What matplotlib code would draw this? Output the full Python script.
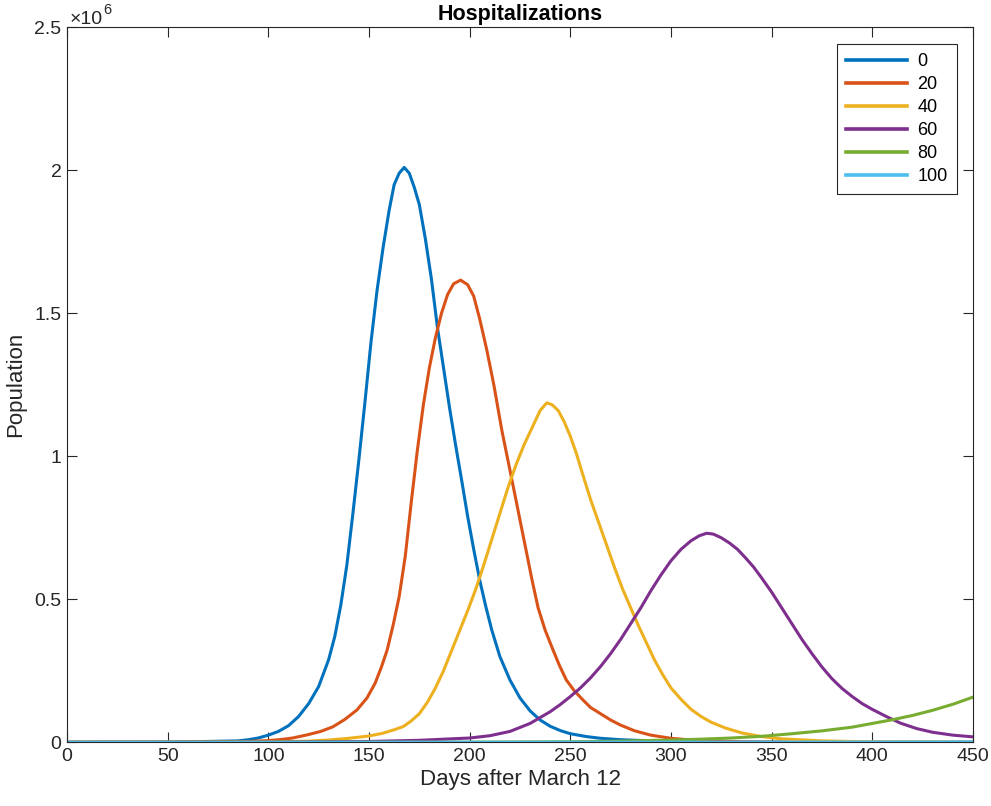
import matplotlib
matplotlib.use("Agg")
from matplotlib import pyplot as plt
from matplotlib.ticker import FuncFormatter

plt.rcParams["font.family"] = ["Liberation Sans", "DejaVu Sans"]

# values, population in millions
days_0 = [0, 50, 85, 90, 95, 100, 105, 110, 115, 120, 125, 130, 133, 136, 139, 142, 145, 148, 151,
          154, 157, 160, 162.5, 165, 167.5, 170, 172.5, 175, 178, 181, 184, 187, 190, 193, 196, 199,
          202, 205, 208, 211, 215, 220, 225, 230, 235, 240, 245, 250, 258, 265, 275, 290, 310, 350,
          400, 450]
hosp_0 = [0, 0.0003, 0.005, 0.009, 0.015, 0.025, 0.038, 0.058, 0.090, 0.135, 0.195, 0.29, 0.37, 0.48,
          0.62, 0.80, 0.99, 1.19, 1.40, 1.58, 1.73, 1.86, 1.95, 1.99, 2.01, 1.99, 1.94, 1.88, 1.76,
          1.62, 1.45, 1.31, 1.17, 1.04, 0.917, 0.79, 0.675, 0.567, 0.475, 0.392, 0.30, 0.218, 0.155,
          0.11, 0.078, 0.056, 0.041, 0.030, 0.02, 0.014, 0.009, 0.005, 0.002, 0.0004, 0.0001, 0]

days_20 = [0, 50, 90, 100, 106, 112, 119, 126, 132, 138, 144, 149, 153, 156, 159, 162, 165, 168, 171,
           174, 177, 180, 183, 186, 189, 192, 195.5, 199, 202, 205, 208.5, 212, 216, 221, 226, 231,
           234, 237.5, 241, 244.5, 248, 252, 256, 260, 265, 270, 275, 282, 290, 300, 310, 320, 340,
           370, 450]
hosp_20 = [0, 0.0004, 0.003, 0.006, 0.0095, 0.015, 0.0255, 0.038, 0.054, 0.08, 0.113, 0.155, 0.206,
           0.26, 0.322, 0.41, 0.51, 0.65, 0.84, 1.02, 1.18, 1.31, 1.415, 1.50, 1.565, 1.603, 1.616,
           1.60, 1.56, 1.48, 1.372, 1.25, 1.09, 0.917, 0.742, 0.567, 0.47, 0.392, 0.33, 0.27, 0.218,
           0.18, 0.15, 0.122, 0.10, 0.078, 0.06, 0.04, 0.025, 0.014, 0.008, 0.004, 0.0015, 0.0005, 0]

days_40 = [0, 50, 100, 120, 130, 140, 150, 157, 163, 167, 171, 175, 179, 183, 187, 191, 195, 199, 203,
           207, 211, 215, 219, 223, 227, 231, 235, 238.3, 241, 244, 247, 250, 253, 256, 260, 264, 268,
           272, 276, 280, 284, 288, 292, 296, 300, 305, 310, 315, 320, 327, 335, 345, 355, 375, 400,
           450]
hosp_40 = [0, 0.0002, 0.001, 0.004, 0.008, 0.014, 0.022, 0.032, 0.045, 0.055, 0.075, 0.10, 0.14, 0.19,
           0.25, 0.32, 0.39, 0.46, 0.535, 0.62, 0.71, 0.80, 0.89, 0.97, 1.04, 1.10, 1.16, 1.187, 1.18,
           1.16, 1.12, 1.07, 1.01, 0.94, 0.85, 0.77, 0.69, 0.61, 0.535, 0.47, 0.405, 0.345, 0.285,
           0.235, 0.19, 0.15, 0.115, 0.09, 0.07, 0.05, 0.033, 0.02, 0.012, 0.005, 0.0015, 0]

days_60 = [0, 100, 150, 175, 200, 210, 220, 230, 240, 245, 250, 255, 260, 265, 270, 275, 280, 285, 290,
           295, 300, 305, 310, 314, 317.7, 321, 325, 329, 333, 337, 341, 345, 350, 355, 360, 365, 370,
           375, 380, 385, 390, 395, 400, 407, 414, 422, 430, 440, 450]
hosp_60 = [0, 0.0005, 0.003, 0.007, 0.015, 0.023, 0.038, 0.066, 0.107, 0.132, 0.16, 0.19, 0.225, 0.265,
           0.31, 0.36, 0.415, 0.47, 0.53, 0.585, 0.635, 0.675, 0.705, 0.722, 0.731, 0.728, 0.715,
           0.697, 0.675, 0.645, 0.613, 0.575, 0.525, 0.47, 0.415, 0.36, 0.31, 0.263, 0.222, 0.188,
           0.16, 0.135, 0.115, 0.09, 0.067, 0.048, 0.035, 0.025, 0.019]

days_80 = [0, 200, 250, 275, 300, 315, 330, 345, 360, 375, 390, 400, 410, 420, 430, 440, 450]
hosp_80 = [0, 0.0005, 0.002, 0.004, 0.008, 0.011, 0.015, 0.021, 0.03, 0.040, 0.053, 0.066, 0.079,
           0.094, 0.112, 0.133, 0.158]

days_100 = [0, 100, 200, 300, 400, 450]
hosp_100 = [0, 0.0001, 0.0003, 0.0006, 0.001, 0.0013]

series = [("0", days_0, hosp_0), ("20", days_20, hosp_20), ("40", days_40, hosp_40),
          ("60", days_60, hosp_60), ("80", days_80, hosp_80), ("100", days_100, hosp_100)]
colors = ["#0072BD", "#D95319", "#EDB120", "#7E2F8E", "#77AC30", "#4DBEEE"]

fig = plt.figure(figsize=(9.91, 8.06), dpi=100)
ax = fig.add_axes([67 / 991, 1 - 742.3 / 806, 906 / 991, 715 / 806])

for (label, x, y), c in zip(series, colors):
    ax.plot(x, y, color=c, lw=2.2, label=label, solid_joinstyle="round")

ax.set(xlim=[0, 450], ylim=[0, 2.5],
       xticks=range(0, 451, 50), yticks=[0, 0.5, 1, 1.5, 2, 2.5])
ax.yaxis.set_major_formatter(FuncFormatter(lambda v, p: "%g" % v))

dark = "#262626"
for spine in ax.spines.values():
    spine.set_color(dark)
    spine.set_linewidth(0.8)
ax.tick_params(direction="in", length=7, width=0.8, colors=dark, labelsize=14,
               top=True, right=True, pad=4)

ax.set_title("Hospitalizations", fontsize=15.5, fontweight="bold", color="black", pad=5)
ax.set_xlabel("Days after March 12", fontsize=16, color=dark, labelpad=3)
ax.set_ylabel("Population", fontsize=16, color=dark, labelpad=6)

# exponent label like matlab
ax.text(0.0033, 1.0046, "\u00d710", transform=ax.transAxes, fontsize=14, color=dark,
        ha="left", va="baseline")
ax.text(0.0405, 1.0185, "6", transform=ax.transAxes, fontsize=10.5, color=dark,
        ha="left", va="baseline")

leg = ax.legend(loc="upper right", bbox_to_anchor=(0.982, 0.9766), borderaxespad=0,
                fancybox=False, framealpha=1, edgecolor=dark, fontsize=13,
                handlelength=3.4, labelspacing=0.33, borderpad=0.5, handletextpad=0.55)
leg.get_frame().set_linewidth(0.8)
for line in leg.get_lines():
    line.set_linewidth(2.6)

fig.savefig("out.png", dpi=100)
